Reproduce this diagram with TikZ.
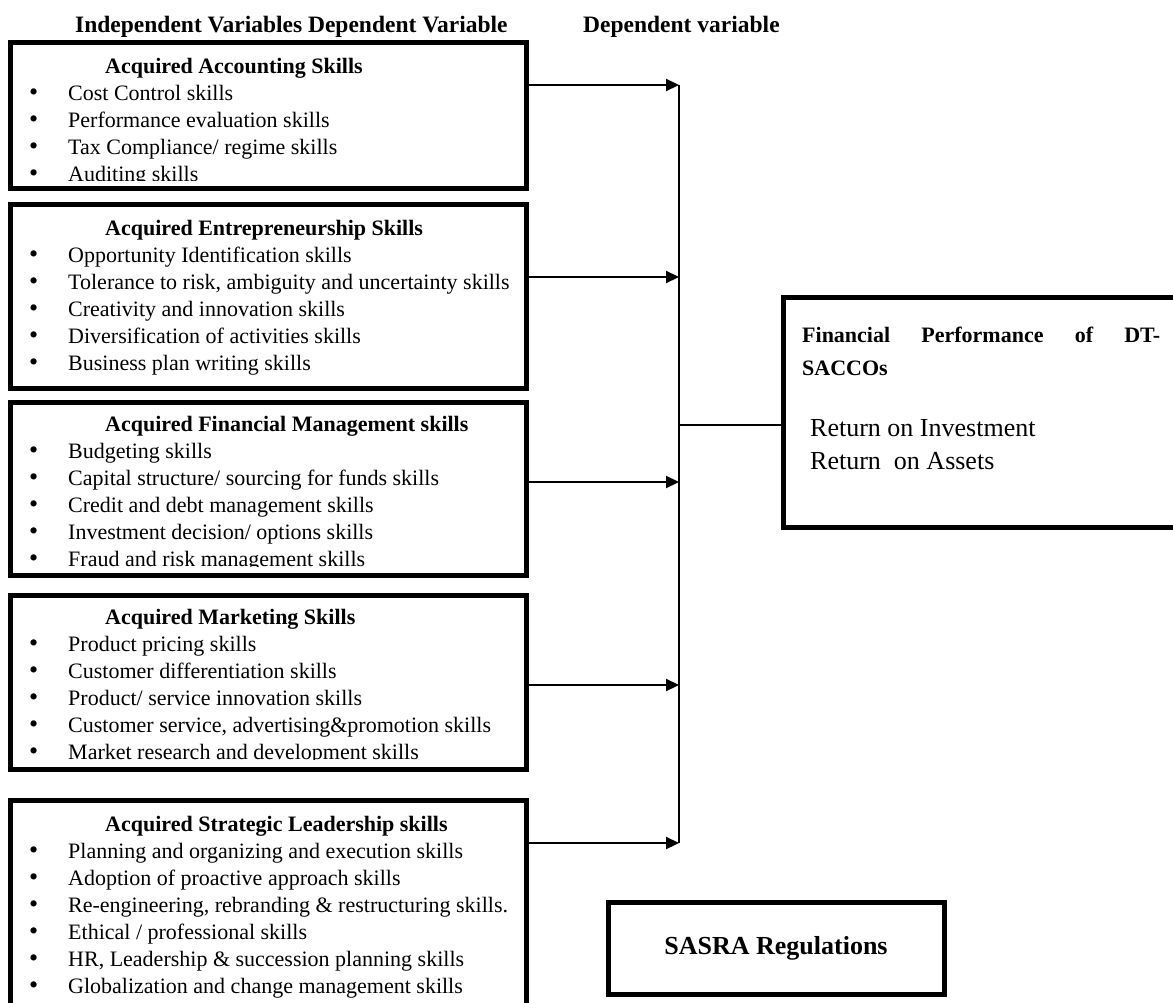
\documentclass[tikz,border=0pt]{standalone}
\usepackage{fontspec}
\setmainfont{Liberation Serif}
\usetikzlibrary{arrows.meta,positioning}

\newcommand{\skillitem}[1]{\makebox[39pt][l]{\fontsize{26}{27}\selectfont\textbullet}#1}
\newcommand{\skilltitle}[1]{\hspace*{76pt}\textbf{#1}}

\tikzstyle{skillbox} = 
[
	rectangle, 
	draw=black, 
	line width=5pt, 
	outer sep=0pt, 
	inner sep=0pt, 
	anchor=north west
]
% base west of a list = baseline of its last line
\tikzstyle{skilllist} = 
[
	anchor=base west, 
	inner sep=0pt, 
	align=left, 
	font=\fontsize{22}{27}\selectfont
]
\tikzstyle{heading} = 
[
	anchor=base west, 
	inner sep=0pt, 
	font=\fontsize{23.5}{27}\selectfont\bfseries
]
\tikzstyle{arrow} = [line width=2.2pt,-{Triangle[length=13pt,width=12pt]}]
\tikzstyle{bus} = [line width=1.3pt]

\begin{document}
\begin{tikzpicture}[x=1pt,y=-1pt]
	\useasboundingbox (0,0) rectangle (1173,1003);

	% headings
	\node (IndepHead) [heading] at (75,33) {Independent Variables Dependent Variable};
	\node (DepHead) [heading] at (583,33) {Dependent variable};

	% independent variables (last lines are cut off as in the source)
	\begin{scope}
		\clip (10,43) rectangle (526,181);
		\node
		(AccountingList)
		[skilllist]
		at (29,182)
		{
			\skilltitle{Acquired Accounting Skills}\\
			\skillitem{Cost Control skills}\\
			\skillitem{Performance evaluation skills}\\
			\skillitem{Tax Compliance/ regime skills}\\
			\skillitem{Auditing skills}
		};
	\end{scope}
	\node (Accounting) [skillbox, minimum width=516pt, minimum height=146pt] at (10,43) {};

	\node
	(EntrepreneurList)
	[skilllist]
	at (29,370)
	{
		\skilltitle{Acquired Entrepreneurship Skills}\\
		\skillitem{Opportunity Identification skills}\\
		\skillitem{Tolerance to risk, ambiguity and uncertainty skills}\\
		\skillitem{Creativity and innovation skills}\\
		\skillitem{Diversification of activities skills}\\
		\skillitem{Business plan writing skills}
	};
	\node (Entrepreneur) [skillbox, minimum width=516pt, minimum height=183pt] at (10,205) {};

	\begin{scope}
		\clip (10,402) rectangle (526,566);
		\node
		(FinanceList)
		[skilllist]
		at (29,566)
		{
			\skilltitle{Acquired Financial Management skills}\\
			\skillitem{Budgeting skills}\\
			\skillitem{Capital structure/ sourcing for funds skills}\\
			\skillitem{Credit and debt management skills}\\
			\skillitem{Investment decision/ options skills}\\
			\skillitem{Fraud and risk management skills}
		};
	\end{scope}
	\node (Finance) [skillbox, minimum width=516pt, minimum height=173pt] at (10,402) {};

	\begin{scope}
		\clip (10,595) rectangle (526,759);
		\node
		(MarketingList)
		[skilllist]
		at (29,759)
		{
			\skilltitle{Acquired Marketing Skills}\\
			\skillitem{Product pricing skills}\\
			\skillitem{Customer differentiation skills}\\
			\skillitem{Product/ service innovation skills}\\
			\skillitem{Customer service, advertising\&promotion skills}\\
			\skillitem{Market research and development skills}
		};
	\end{scope}
	\node (Marketing) [skillbox, minimum width=516pt, minimum height=174pt] at (10,595) {};

	\node
	(LeadershipList)
	[skilllist]
	at (29,993)
	{
		\skilltitle{Acquired Strategic Leadership skills}\\
		\skillitem{Planning and organizing and execution skills}\\
		\skillitem{Adoption of proactive approach skills}\\
		\skillitem{Re-engineering, rebranding \& restructuring skills.}\\
		\skillitem{Ethical / professional skills}\\
		\skillitem{HR, Leadership \& succession planning skills}\\
		\skillitem{Globalization and change management skills}
	};
	\node (Leadership) [skillbox, minimum width=516pt, minimum height=220pt] at (10,800) {};

	% dependent variable
	\node (Performance) [skillbox, minimum width=400pt, minimum height=230pt] at (783,297) {};
	\node
	(PerformanceTitle)
	[skilllist, font=\fontsize{22}{33}\selectfont\bfseries]
	at (802,375)
	{
		\makebox[358pt][s]{Financial Performance of DT-}\\
		SACCOs
	};
	\node
	(PerformanceMeasures)
	[skilllist, font=\fontsize{26}{33}\selectfont]
	at (810,469)
	{
		Return on Investment\\
		Return\ \ on Assets
	};

	\node
	(SASRA)
	[skillbox, anchor=center, minimum width=336pt, minimum height=92pt, font=\fontsize{26}{27}\selectfont\bfseries]
	at (776,948)
	{SASRA Regulations};

	% connectors
	\coordinate (a1) at (679,85);
	\coordinate (a2) at (679,277);
	\coordinate (a3) at (679,482);
	\coordinate (a4) at (679,685);
	\coordinate (a5) at (679,843);
	\coordinate (join) at (679,425);

	\draw [bus] (a1) -- (a5);
	\draw [bus] (join) -- (Performance.west |- join);

	\draw [arrow] (Accounting.east |- a1) -- (a1);
	\draw [arrow] (Entrepreneur.east |- a2) -- (a2);
	\draw [arrow] (Finance.east |- a3) -- (a3);
	\draw [arrow] (Marketing.east |- a4) -- (a4);
	\draw [arrow] (Leadership.east |- a5) -- (a5);

\end{tikzpicture}
\end{document}
